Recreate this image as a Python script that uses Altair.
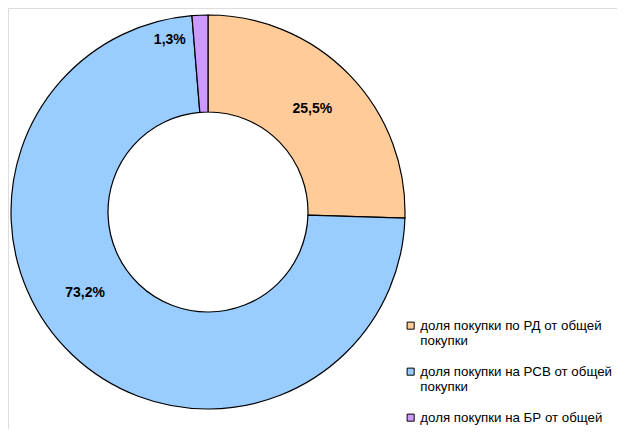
import altair as alt
import pandas as pd

categories = ["доля покупки по РД от общей|покупки",
              "доля покупки на РСВ от общей|покупки",
              "доля покупки на БР от общей|покупки"]
values = [25.5, 73.2, 1.3]
labels = ["25,5%", "73,2%", "1,3%"]
colors = ["#FFCC99", "#99CCFF", "#CC99FF"]
order = [0, 1, 2]

df = pd.DataFrame({"cat": categories, "value": values, "label": labels, "order": order})

cx, cy = 200, 204

base = alt.Chart(df).encode(
    theta=alt.Theta("value:Q", stack=True),
    order=alt.Order("order:Q"),
)

arc = base.mark_arc(outerRadius=197, innerRadius=100, stroke="black", strokeWidth=1.2).encode(
    x=alt.value(cx), y=alt.value(cy),
    color=alt.Color("cat:N", sort=categories,
                    scale=alt.Scale(domain=categories, range=colors),
                    legend=alt.Legend(title=None, orient="none", legendX=396, legendY=311,
                                      labelExpr="split(datum.label, '|')",
                                      labelFont="Liberation Sans", labelFontSize=13.3,
                                      labelColor="black", labelLimit=300,
                                      symbolType="square", symbolSize=50,
                                      symbolStrokeColor="black", symbolStrokeWidth=1,
                                      rowPadding=16, labelOffset=3)),
)

font = dict(fontSize=14, fontWeight="bold", font="Liberation Sans", color="black")

text_main = base.mark_text(radius=148, dx=-2, **font).encode(
    x=alt.value(cx), y=alt.value(cy), text="label:N",
    opacity=alt.condition(alt.datum.order == 0, alt.value(1), alt.value(0)),
)
text_big = base.mark_text(radius=148, dx=-21, dy=-26, **font).encode(
    x=alt.value(cx), y=alt.value(cy), text="label:N",
    opacity=alt.condition(alt.datum.order == 1, alt.value(1), alt.value(0)),
)
text_small = base.mark_text(radius=176, dx=-31, dy=4, **font).encode(
    x=alt.value(cx), y=alt.value(cy), text="label:N",
    opacity=alt.condition(alt.datum.order == 2, alt.value(1), alt.value(0)),
)

chart = alt.layer(arc, text_main, text_big, text_small).properties(
    width=609, height=421, padding=0,
    autosize=alt.AutoSizeParams(type="none"),
).configure_view(strokeWidth=0).configure(background="white")

chart.save("out.html", embed_options={"renderer": "svg", "actions": False})
